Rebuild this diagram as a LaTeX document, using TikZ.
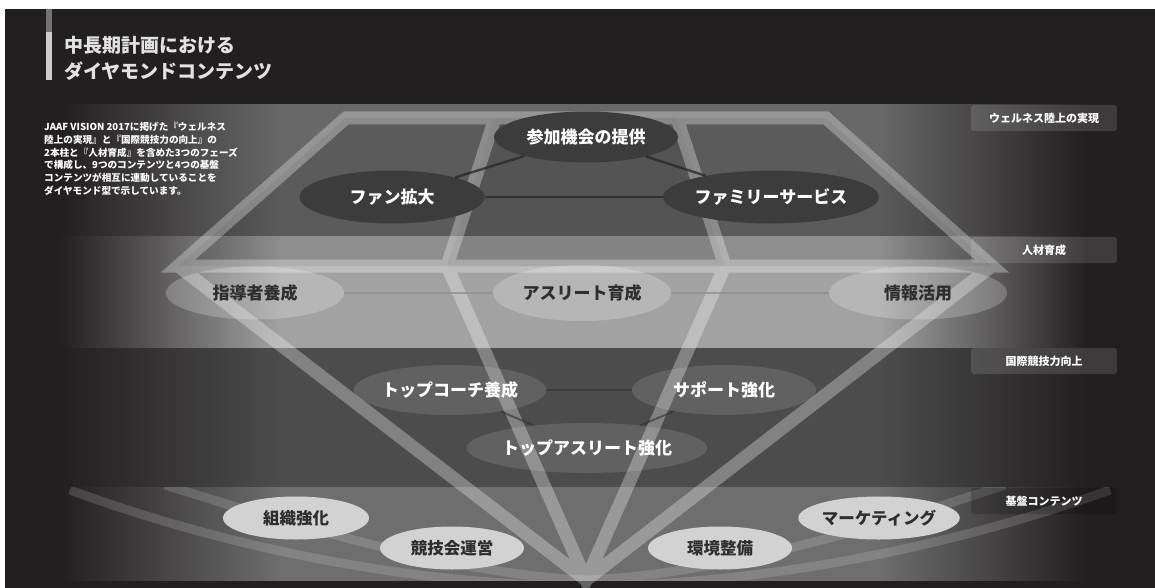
\documentclass[tikz,border=0pt]{standalone}
\usepackage{fontspec}
\setmainfont{Noto Sans CJK JP}
\usetikzlibrary{shapes.geometric}
\definecolor{bgc}{HTML}{231F20}
\definecolor{midA}{HTML}{686868}
\definecolor{midB}{HTML}{A2A2A2}
\definecolor{midC}{HTML}{4C4C4C}
\definecolor{midD}{HTML}{6E6E6E}
\definecolor{titlec}{HTML}{E2E2E2}
\definecolor{darknode}{HTML}{3C3C3C}
\definecolor{lightnode}{HTML}{D2D2D2}
\definecolor{inkc}{HTML}{2E2E2E}
\pgfdeclarehorizontalshading{bandA}{100bp}{color(0bp)=(bgc); color(27.4bp)=(bgc); color(37bp)=(midA); color(63bp)=(midA); color(72bp)=(bgc); color(100bp)=(bgc)}
\pgfdeclarehorizontalshading{bandB}{100bp}{color(0bp)=(bgc); color(27.4bp)=(bgc); color(37bp)=(midB); color(63bp)=(midB); color(72bp)=(bgc); color(100bp)=(bgc)}
\pgfdeclarehorizontalshading{bandC}{100bp}{color(0bp)=(bgc); color(27.4bp)=(bgc); color(37bp)=(midC); color(63bp)=(midC); color(72bp)=(bgc); color(100bp)=(bgc)}
\pgfdeclarehorizontalshading{bandD}{100bp}{color(0bp)=(bgc); color(27.4bp)=(bgc); color(37bp)=(midD); color(63bp)=(midD); color(72bp)=(bgc); color(100bp)=(bgc)}
\tikzset{
  nodeA/.style={ellipse, inner sep=0pt, minimum width=184pt, minimum height=51pt, fill=darknode, text=white, font=\fontsize{17}{20}\selectfont\bfseries},
  nodeB/.style={ellipse, inner sep=0pt, minimum width=178pt, minimum height=53pt, fill=white, fill opacity=0.22, text opacity=1, text=inkc, font=\fontsize{17}{20}\selectfont\bfseries},
  nodeC/.style={ellipse, inner sep=0pt, minimum width=184pt, minimum height=50pt, fill=white, fill opacity=0.12, text opacity=1, text=white, font=\fontsize{17}{20}\selectfont\bfseries},
  nodeD/.style={ellipse, inner sep=0pt, minimum width=146pt, minimum height=43pt, fill=lightnode, text=inkc, font=\fontsize{16.5}{20}\selectfont\bfseries},
  bandlabel/.style={rectangle, rounded corners=3pt, inner sep=0pt, minimum width=146pt, minimum height=26pt, fill=white, fill opacity=0.13, text opacity=1, text=white, font=\fontsize{11}{14}\selectfont\bfseries},
  connA/.style={draw=black!85, line width=2.4pt, opacity=0.75},
  connB/.style={draw=black!45, line width=2.6pt, opacity=0.7},
  connC/.style={draw=black!80, line width=2pt, opacity=0.6},
  facet/.style={draw=white, draw opacity=0.3, line width=13pt, line join=miter, miter limit=10},
  swoosh/.style={draw=white, draw opacity=0.15, line width=9pt}
}
\begin{document}
\begin{tikzpicture}[x=1pt,y=-1pt]
\useasboundingbox (0,0) rectangle (1155,588);
% page and background
\fill[white] (0,0) rectangle (1155,588);
\fill[bgc] (5,9) rectangle (1155,588);
% bands
\shade[shading=bandA] (5,105) rectangle (1155,236);
\shade[shading=bandB] (5,236) rectangle (1155,348);
\shade[shading=bandC] (5,348) rectangle (1155,487);
\shade[shading=bandD] (5,487) rectangle (1155,580);
% title
\fill[black!55] (46,9) rectangle (52,32);
\fill[black!20] (46,32) rectangle (52,80);
\node[anchor=west, inner sep=0pt, text=titlec, font=\fontsize{19}{22}\selectfont\bfseries] (title1) at (64,45) {中長期計画における};
\node[anchor=west, inner sep=0pt, text=titlec, font=\fontsize{19}{22}\selectfont\bfseries] (title2) at (64,71) {ダイヤモンドコンテンツ};
% description
\node[anchor=north west, align=left, inner sep=0pt, text=white, font=\fontsize{9.6}{12.8}\selectfont\bfseries] (desc) at (44,122) {JAAF VISION 2017に掲げた『ウェルネス\\陸上の実現』と『国際競技力の向上』の\\2本柱と『人材育成』を含めた3つのフェーズ\\で構成し、9つのコンテンツと4つの基盤\\コンテンツが相互に連動していることを\\ダイヤモンド型で示しています。};
% diamond geometry
\coordinate (tl) at (346,118);
\coordinate (tr) at (826,118);
\coordinate (il) at (495,118);
\coordinate (ir) at (677,118);
\coordinate (gl) at (178,266);
\coordinate (gr) at (992,266);
\coordinate (gil) at (447,266);
\coordinate (gir) at (725,266);
\coordinate (bot) at (586,580);
\fill[black, opacity=0.12] (tl) -- (tr) -- (gr) -- (gl) -- cycle;
\fill[black, opacity=0.07] (il) -- (ir) -- (gir) -- (gil) -- cycle;
% swooshes in the base band
\begin{scope}
\clip (5,487) rectangle (1155,580);
\path[swoosh] (165,485) .. controls (340,540) and (480,576) .. (586,580);
\path[swoosh] (70,490) .. controls (260,560) and (450,586) .. (586,586);
\path[swoosh] (1005,485) .. controls (840,540) and (695,576) .. (586,580);
\path[swoosh] (1110,490) .. controls (915,560) and (720,586) .. (586,586);
\end{scope}
\path[facet] (tl) -- (tr) -- (gr) -- (gl) -- cycle
  (il) -- (gil) (ir) -- (gir)
  (gl) -- (bot) -- (gr) (gil) -- (bot) -- (gir);
% band labels
\node[bandlabel] (lab1) at (1044,118) {ウェルネス陸上の実現};
\node[bandlabel] (lab2) at (1044,250) {人材育成};
\node[bandlabel] (lab3) at (1044,361) {国際競技力向上};
\node[bandlabel, fill=black, fill opacity=0.18] (lab4) at (1044,501) {基盤コンテンツ};
% nodes
\node[nodeA] (sanka) at (586,137) {参加機会の提供};
\node[nodeA, minimum width=185pt, minimum height=53pt] (fan) at (392,197) {ファン拡大};
\node[nodeA, minimum width=178pt, minimum height=53pt] (family) at (771,197) {ファミリーサービス};
\node[nodeB] (shido) at (255,293) {指導者養成};
\node[nodeB, minimum height=56pt] (athlete) at (582,293) {アスリート育成};
\node[nodeB] (joho) at (918,293) {情報活用};
\node[nodeC] (coach) at (450,390) {トップコーチ養成};
\node[nodeC] (support) at (724,390) {サポート強化};
\node[nodeC] (topath) at (587,448) {トップアスリート強化};
\node[nodeD] (soshiki) at (296,518) {組織強化};
\node[nodeD, minimum width=144pt] (kyogi) at (452,548) {競技会運営};
\node[nodeD, minimum width=144pt] (kankyo) at (720,548) {環境整備};
\node[nodeD] (market) at (879,518) {マーケティング};
% connectors
\draw[connA] (sanka) -- (fan);
\draw[connA] (sanka) -- (family);
\draw[connA] (fan) -- (family);
\draw[connB] (shido) -- (athlete);
\draw[connB] (athlete) -- (joho);
\draw[connC] (coach) -- (support);
\draw[connC] (coach) -- (topath);
\draw[connC] (support) -- (topath);
\end{tikzpicture}
\end{document}
